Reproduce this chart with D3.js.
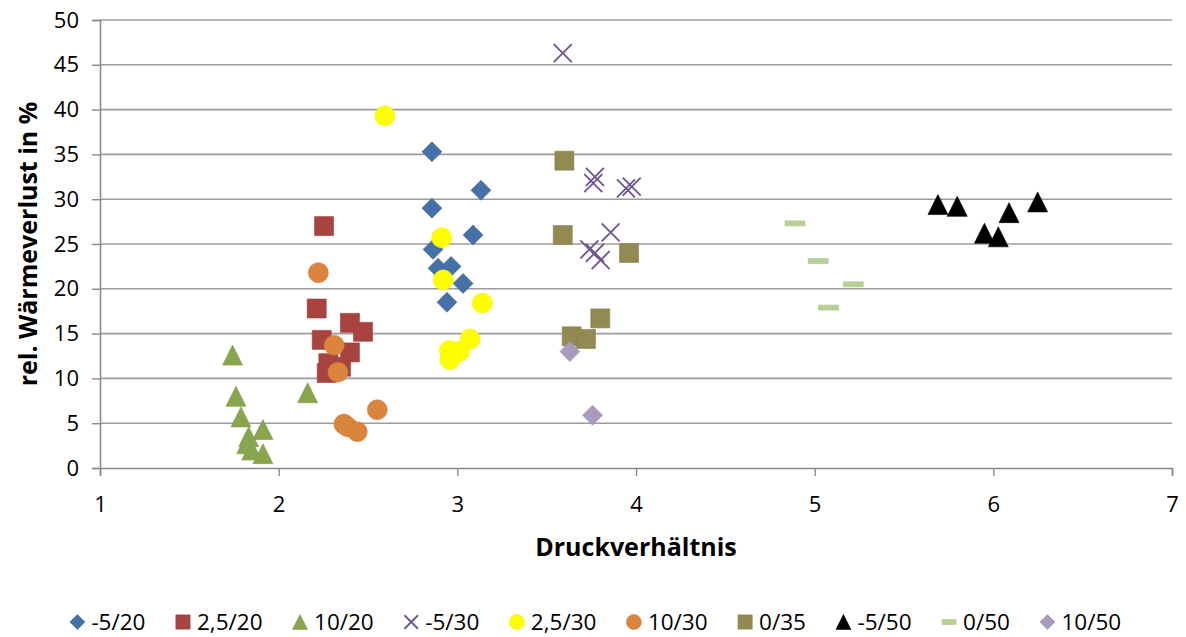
<!DOCTYPE html>
<html>
<head>
<meta charset="utf-8">
<script src="https://cdn.jsdelivr.net/npm/d3@7"></script>
<style>
  html, body { margin: 0; padding: 0; background: #fff; }
  svg { display: block; font-family: "Open Sans", "DejaVu Sans", sans-serif; }
</style>
</head>
<body>
<svg id="chart" width="1186" height="637"></svg>
<script>
// Measured points per series: [Druckverhältnis, rel. Wärmeverlust in %]
const s_m5_20 = [[2.858,35.3],[3.132,31.0],[2.858,29.0],[3.088,26.0],[2.864,24.4],[2.892,22.3],[2.965,22.5],[3.032,20.6],[2.942,18.5]];
const s_25_20 = [[2.254,27.0],[2.213,17.8],[2.399,16.2],[2.472,15.2],[2.241,14.3],[2.399,12.9],[2.349,11.3],[2.278,11.7],[2.269,10.6]];
const s_10_20 = [[1.742,12.6],[1.761,8.0],[1.789,5.7],[1.912,4.3],[1.832,3.5],[1.821,2.7],[1.849,2.0],[1.912,1.6],[2.162,8.4]];
const s_m5_30 = [[3.590,46.3],[3.770,32.5],[3.761,31.8],[3.944,31.2],[3.976,31.4],[3.858,26.3],[3.739,24.4],[3.770,24.0],[3.802,23.2]];
const s_25_30 = [[2.595,39.3],[2.912,25.7],[2.921,21.0],[3.140,18.4],[3.071,14.4],[3.011,13.0],[2.955,13.1],[2.959,12.1]];
const s_10_30 = [[2.222,21.8],[2.311,13.7],[2.332,10.7],[2.552,6.5],[2.365,4.9],[2.385,4.6],[2.440,4.05]];
const s_0_35  = [[3.599,34.3],[3.590,26.0],[3.961,24.0],[3.800,16.7],[3.640,14.7],[3.720,14.4]];
const s_m5_50 = [[5.690,29.4],[5.798,29.2],[6.088,28.5],[6.248,29.7],[5.950,26.2],[6.028,25.8]];
const s_0_50  = [[4.890,27.3],[5.020,23.1],[5.216,20.5],[5.078,17.9]];
const s_10_50 = [[3.630,13.0],[3.757,5.9]];

const seriesNames  = ["-5/20", "2,5/20", "10/20", "-5/30", "2,5/30", "10/30", "0/35", "-5/50", "0/50", "10/50"];
const seriesData   = [s_m5_20, s_25_20, s_10_20, s_m5_30, s_25_30, s_10_30, s_0_35, s_m5_50, s_0_50, s_10_50];
const seriesShape  = ["diamond", "square", "triangle", "cross", "circle", "circle", "square", "triangle", "dash", "diamond"];
const seriesColor  = ["#4670A8", "#A84340", "#89A54E", "#6E5490", "#FFFF00", "#DB843D", "#938952", "#000000", "#B6CF94", "#A99BBD"];

const xTicks = [1, 2, 3, 4, 5, 6, 7];
const yTicks = [0, 5, 10, 15, 20, 25, 30, 35, 40, 45, 50];

const xLabel = "Druckverhältnis";
const yLabel = "rel. Wärmeverlust in %";

const svg = d3.select("#chart");
const plot = { left: 100, right: 1172, top: 20, bottom: 468 };

const x = d3.scaleLinear().domain([1, 7]).range([plot.left, plot.right]);
const y = d3.scaleLinear().domain([0, 50]).range([plot.bottom, plot.top]);

// Horizontal gridlines
svg.append("g")
  .selectAll("line")
  .data(yTicks.filter(t => t > 0))
  .join("line")
  .attr("x1", plot.left).attr("x2", plot.right)
  .attr("y1", d => y(d)).attr("y2", d => y(d))
  .attr("stroke", "#9c9c9c").attr("stroke-width", 1.6);

// Axes
const yAxis = d3.axisLeft(y).tickValues(yTicks).tickSize(8).tickPadding(13).tickFormat(d3.format("d"));
const gy = svg.append("g").attr("transform", `translate(${plot.left},0)`).call(yAxis);
const xAxis = d3.axisBottom(x).tickValues(xTicks).tickSize(8).tickPadding(20).tickFormat(d3.format("d"));
const gx = svg.append("g").attr("transform", `translate(0,${plot.bottom})`).call(xAxis);

[gx, gy].forEach(g => {
  g.select(".domain").attr("stroke", "#8a8a8a").attr("stroke-width", 1.6);
  g.selectAll(".tick line").attr("stroke", "#8a8a8a").attr("stroke-width", 1.4);
  g.selectAll(".tick text")
    .attr("fill", "#000")
    .style("font-size", "22px")
    .style("font-family", '"Open Sans", sans-serif');
});

// Axis titles
svg.append("text")
  .attr("x", (plot.left + plot.right) / 2).attr("y", 556)
  .attr("text-anchor", "middle")
  .style("font-size", "25px").style("font-weight", "bold")
  .text(xLabel);

svg.append("text")
  .attr("transform", `translate(37,${(plot.top + plot.bottom) / 2}) rotate(-90)`)
  .attr("text-anchor", "middle")
  .style("font-size", "25px").style("font-weight", "bold")
  .text(yLabel);

// Marker shapes, scaled by a nominal size s (full width in px)
function markerPath(shape, s) {
  const p = d3.path();
  const h = s / 2;
  switch (shape) {
    case "diamond":
      p.moveTo(0, -h); p.lineTo(h, 0); p.lineTo(0, h); p.lineTo(-h, 0); p.closePath(); break;
    case "square":
      p.rect(-h * 0.95, -h * 0.95, s * 0.95, s * 0.95); break;
    case "triangle":
      p.moveTo(0, -h); p.lineTo(h, h); p.lineTo(-h, h); p.closePath(); break;
    case "circle":
      p.arc(0, 0, h, 0, 2 * Math.PI); break;
    case "cross":
      p.moveTo(-h * 0.9, -h * 0.9); p.lineTo(h * 0.9, h * 0.9);
      p.moveTo(h * 0.9, -h * 0.9); p.lineTo(-h * 0.9, h * 0.9); break;
    case "dash":
      p.rect(-h, -2.5, s, 5); break;
  }
  return p.toString();
}

function styleMarker(sel, shape, color) {
  if (shape === "cross") {
    sel.attr("fill", "none").attr("stroke", color).attr("stroke-width", 1.8);
  } else if (shape === "dash") {
    sel.attr("fill", color).attr("stroke", color).attr("stroke-width", 0.8).attr("stroke-linejoin", "round");
  } else {
    sel.attr("fill", color).attr("stroke", d3.color(color).darker(0.15)).attr("stroke-width", 0.6);
  }
}

// Data markers, one group per series
seriesData.forEach((pts, i) => {
  const g = svg.append("g").attr("class", "series");
  const sel = g.selectAll("path")
    .data(pts)
    .join("path")
    .attr("transform", d => `translate(${x(d[0])},${y(d[1])})`)
    .attr("d", markerPath(seriesShape[i], 20));
  styleMarker(sel, seriesShape[i], seriesColor[i]);
});

// Legend laid out as a centred row
const legendGap = 37.5;
const legend = svg.append("g");
let cursor = 0;
seriesNames.forEach((name, i) => {
  const item = legend.append("g");
  const m = item.append("path")
    .attr("d", markerPath(seriesShape[i], seriesShape[i] === "dash" ? 14 : 15));
  styleMarker(m, seriesShape[i], seriesColor[i]);
  const t = item.append("text")
    .attr("x", 14).attr("y", 7.5)
    .style("font-size", "22.5px")
    .text(name);
  const w = 14 + t.node().getComputedTextLength();
  item.attr("transform", `translate(${cursor},0)`);
  cursor += w + legendGap;
});
const span = cursor - legendGap + 7.5;
legend.attr("transform", `translate(${595.5 - span / 2 + 7.5},622)`);
</script>
</body>
</html>
